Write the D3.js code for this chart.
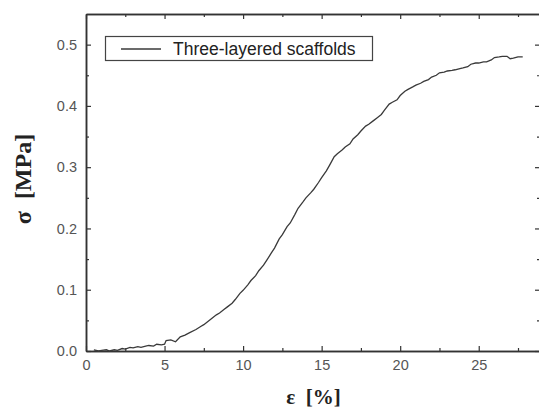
<!DOCTYPE html>
<html>
<head>
<meta charset="utf-8">
<script src="https://cdn.jsdelivr.net/npm/d3@7"></script>
<style>
  body { margin: 0; background: #fff; }
  svg { display: block; }
</style>
</head>
<body>
<svg width="539" height="409"></svg>
<script>
// strain [%] and stress [MPa]
const strain = [0.5, 0.8, 1.0, 1.3, 1.5, 1.8, 2.0, 2.3, 2.5, 2.8, 3.0, 3.3, 3.5, 3.8, 4.0, 4.3, 4.5, 4.8, 5.0, 5.1, 5.4, 5.7, 6.0, 6.3, 6.6, 7.0, 7.3, 7.5, 7.8, 8.0, 8.3, 8.5, 8.8, 9.0, 9.3, 9.5, 9.8, 10.0, 10.3, 10.5, 10.8, 11.0, 11.3, 11.5, 11.8, 12.0, 12.3, 12.5, 12.8, 13.0, 13.3, 13.5, 13.8, 14.0, 14.3, 14.5, 14.8, 15.0, 15.3, 15.5, 15.8, 16.0, 16.3, 16.5, 16.8, 17.0, 17.3, 17.5, 17.8, 18.0, 18.3, 18.5, 18.8, 19.0, 19.3, 19.5, 19.8, 20.0, 20.3, 20.5, 20.8, 21.0, 21.3, 21.5, 21.8, 22.0, 22.3, 22.5, 22.8, 23.0, 23.3, 23.5, 23.8, 24.0, 24.3, 24.5, 24.8, 25.0, 25.3, 25.5, 25.8, 26.0, 26.3, 26.5, 26.8, 27.0, 27.2, 27.5, 27.8];
const stress = [0.002, 0.000, 0.001, 0.002, 0.000, 0.002, 0.001, 0.004, 0.003, 0.006, 0.005, 0.007, 0.006, 0.008, 0.009, 0.008, 0.011, 0.010, 0.011, 0.017, 0.018, 0.015, 0.023, 0.026, 0.030, 0.035, 0.040, 0.043, 0.049, 0.053, 0.059, 0.062, 0.068, 0.072, 0.078, 0.084, 0.094, 0.099, 0.108, 0.115, 0.123, 0.131, 0.140, 0.148, 0.160, 0.168, 0.183, 0.190, 0.203, 0.209, 0.223, 0.233, 0.243, 0.250, 0.258, 0.264, 0.275, 0.283, 0.294, 0.303, 0.317, 0.322, 0.328, 0.333, 0.338, 0.346, 0.353, 0.359, 0.367, 0.370, 0.376, 0.380, 0.386, 0.393, 0.403, 0.406, 0.410, 0.417, 0.424, 0.427, 0.431, 0.434, 0.437, 0.440, 0.443, 0.447, 0.450, 0.454, 0.455, 0.457, 0.458, 0.459, 0.461, 0.462, 0.464, 0.468, 0.470, 0.470, 0.472, 0.472, 0.475, 0.479, 0.480, 0.481, 0.481, 0.477, 0.478, 0.480, 0.480];

const xTicks = [0, 5, 10, 15, 20, 25];
const yTicks = [0.0, 0.1, 0.2, 0.3, 0.4, 0.5];
const legendLabel = "Three-layered scaffolds";

var svg = d3.select("svg");
const m = { left: 86, top: 14, right: 540, bottom: 351 };

var x = d3.scaleLinear().domain([0, 28.9]).range([m.left, m.right]);
var y = d3.scaleLinear().domain([0, 0.55]).range([m.bottom, m.top]);

const axisColor = "#333";
const labelColor = "#555";

// minor ticks every 2.5 / 0.05
const xMinor = d3.range(2.5, 28.9, 5);
const yMinor = d3.range(0.05, 0.55, 0.1);

function styleAxis(g) {
    g.select(".domain").attr("stroke", axisColor).attr("stroke-width", 1.5);
    g.selectAll(".tick line").attr("stroke", axisColor).attr("stroke-width", 1.2);
    g.selectAll(".tick text")
        .attr("fill", labelColor)
        .style("font-family", "Arial, 'Liberation Sans', sans-serif")
        .style("font-size", "14.5px");
}

// bottom
svg.append("g").attr("transform", `translate(0,${m.bottom})`)
    .call(d3.axisBottom(x).tickValues(xTicks).tickSize(-5).tickPadding(9).tickSizeOuter(0))
    .call(styleAxis);
svg.append("g").attr("transform", `translate(0,${m.bottom})`)
    .call(d3.axisBottom(x).tickValues(xMinor).tickSize(-3).tickFormat("").tickSizeOuter(0))
    .call(styleAxis);
// top
svg.append("g").attr("transform", `translate(0,${m.top})`)
    .call(d3.axisTop(x).tickValues(xTicks).tickSize(-5).tickFormat("").tickSizeOuter(0))
    .call(styleAxis);
svg.append("g").attr("transform", `translate(0,${m.top})`)
    .call(d3.axisTop(x).tickValues(xMinor).tickSize(-3).tickFormat("").tickSizeOuter(0))
    .call(styleAxis);
// left
svg.append("g").attr("transform", `translate(${m.left},0)`)
    .call(d3.axisLeft(y).tickValues(yTicks).tickSize(-5).tickPadding(9).tickFormat(d3.format(".1f")).tickSizeOuter(0))
    .call(styleAxis);
svg.append("g").attr("transform", `translate(${m.left},0)`)
    .call(d3.axisLeft(y).tickValues(yMinor).tickSize(-3).tickFormat("").tickSizeOuter(0))
    .call(styleAxis);
// right
svg.append("g").attr("transform", `translate(${m.right},0)`)
    .call(d3.axisRight(y).tickValues(yTicks).tickSize(-5).tickFormat("").tickSizeOuter(0))
    .call(styleAxis);
svg.append("g").attr("transform", `translate(${m.right},0)`)
    .call(d3.axisRight(y).tickValues(yMinor).tickSize(-3).tickFormat("").tickSizeOuter(0))
    .call(styleAxis);

// curve
var line = d3.line().x((d, i) => x(strain[i])).y(d => y(d));
svg.append("path")
    .datum(stress)
    .attr("d", line)
    .attr("fill", "none")
    .attr("stroke", "#3a3a3a")
    .attr("stroke-width", 1.3);

// legend
var lg = svg.append("g");
lg.append("rect")
    .attr("x", 105.5).attr("y", 36.5).attr("width", 267).attr("height", 24)
    .attr("fill", "#fff").attr("stroke", "#444").attr("stroke-width", 1.2);
lg.append("line")
    .attr("x1", 121).attr("x2", 161).attr("y1", 49).attr("y2", 49)
    .attr("stroke", "#3a3a3a").attr("stroke-width", 1.3);
lg.append("text")
    .attr("x", 173).attr("y", 54.5)
    .attr("fill", "#222")
    .style("font-family", "Arial, 'Liberation Sans', sans-serif")
    .style("font-size", "17.5px")
    .text(legendLabel);

// axis titles
svg.append("text")
    .attr("x", 313.5).attr("y", 404)
    .attr("text-anchor", "middle")
    .style("font-family", "'Times New Roman', 'Liberation Serif', serif")
    .style("font-weight", "bold")
    .style("font-size", "21px")
    .style("white-space", "pre")
    .attr("fill", "#222")
    .text("ε  [%]");

svg.append("text")
    .attr("transform", "translate(31,179) rotate(-90)")
    .attr("text-anchor", "middle")
    .style("font-family", "'Times New Roman', 'Liberation Serif', serif")
    .style("font-weight", "bold")
    .style("font-size", "24px")
    .style("white-space", "pre")
    .attr("fill", "#222")
    .text("σ  [MPa]");
</script>
</body>
</html>
